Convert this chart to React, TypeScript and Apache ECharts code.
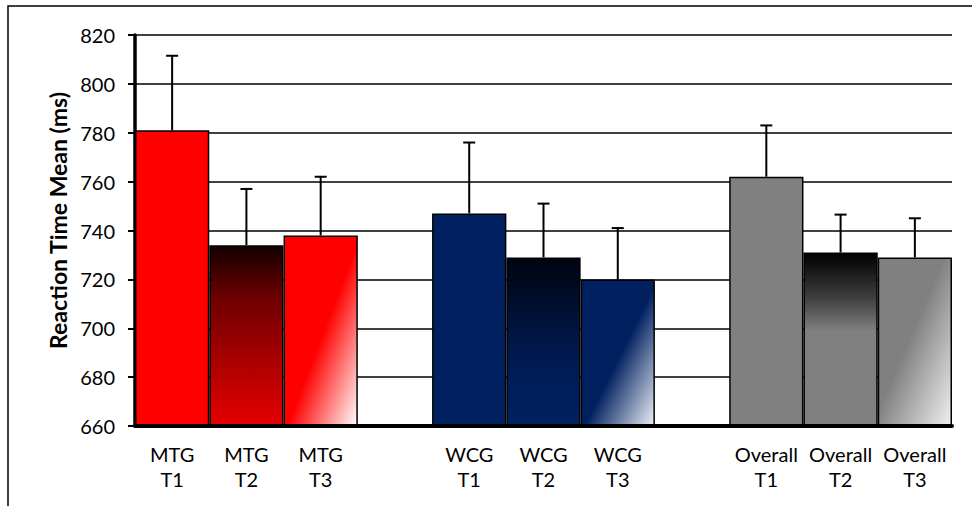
import React, { useEffect, useRef } from "react";
import * as echarts from "echarts";

const categories = [
  "MTG\nT1", "MTG\nT2", "MTG\nT3", "",
  "WCG\nT1", "WCG\nT2", "WCG\nT3", "",
  "Overall\nT1", "Overall\nT2", "Overall\nT3",
];
const means: (number | null)[] = [781, 734, 738, null, 747, 729, 720, null, 762, 731, 729];
const errors: (number | null)[] = [30.5, 23, 24, null, 29, 22, 21, null, 21, 15.5, 16];
const yTicks = { min: 660, max: 820, interval: 20 };
const yTitle = "Reaction Time Mean (ms)";

const FONT = "Lato, 'Noto Sans', sans-serif";

function grad(x2: number, y2: number, stops: [number, string][]) {
  return new echarts.graphic.LinearGradient(
    0, 0, x2, y2,
    stops.map(([offset, color]) => ({ offset, color }))
  );
}

const fills: any[] = [
  "#ff0000",
  grad(0, 1, [[0, "#140000"], [0.3, "#700000"], [1, "#e60000"]]),
  grad(1, 1, [[0, "#ff0000"], [0.52, "#ff0000"], [1, "#ffffff"]]),
  "#ffffff",
  "#002060",
  grad(0, 1, [[0, "#00040f"], [0.4, "#00143c"], [0.7, "#001d58"], [1, "#002060"]]),
  grad(1, 1, [[0, "#002060"], [0.52, "#002060"], [1, "#eef1f7"]]),
  "#ffffff",
  "#808080",
  grad(0, 1, [[0, "#000000"], [0.25, "#3c3c3c"], [0.45, "#808080"], [1, "#808080"]]),
  grad(1, 1, [[0, "#808080"], [0.45, "#808080"], [1, "#f0f0f0"]]),
];

export default function App() {
  const ref = useRef<HTMLDivElement>(null);
  useEffect(() => {
    if (!ref.current) return;
    const chart = echarts.init(ref.current, undefined, { renderer: "svg" });
    const barData = means.map((v, i) =>
      v == null
        ? null
        : { value: v, itemStyle: { color: fills[i], borderColor: "#000", borderWidth: 1.5 } }
    );
    const errData = means
      .map((v, i) => (v == null ? null : [i, v, v + (errors[i] as number)]))
      .filter((d) => d != null);

    chart.setOption({
      animation: false,
      backgroundColor: "#ffffff",
      graphic: [
        {
          type: "rect",
          shape: { x: 8, y: 6, width: 1000, height: 600 },
          style: { fill: "none", stroke: "#000", lineWidth: 1.5 },
          silent: true,
          z: -10,
        },
      ],
      grid: { left: 135, right: 20, top: 35, bottom: 80, containLabel: false },
      xAxis: {
        type: "category",
        data: categories,
        z: 5,
        axisLine: { show: true, lineStyle: { color: "#000", width: 4 } },
        axisTick: { show: false },
        axisLabel: {
          interval: 0,
          color: "#000",
          fontFamily: FONT,
          fontSize: 20,
          lineHeight: 25,
          margin: 15,
        },
        splitLine: { show: false },
      },
      yAxis: {
        type: "value",
        min: yTicks.min,
        max: yTicks.max,
        interval: yTicks.interval,
        name: yTitle,
        nameLocation: "middle",
        nameGap: 63,
        nameTextStyle: {
          fontFamily: FONT,
          fontSize: 23,
          fontWeight: "bold",
          color: "#000",
          padding: [0, 0, 0, 20],
        },
        axisLine: { show: true, lineStyle: { color: "#000", width: 3.5 } },
        axisTick: { show: true, inside: false, length: 7, lineStyle: { color: "#000", width: 2 } },
        axisLabel: { color: "#000", fontFamily: FONT, fontSize: 20, margin: 20 },
        splitLine: { show: true, lineStyle: { color: "#000", width: 1.5 } },
      },
      series: [
        {
          type: "bar",
          data: barData,
          barWidth: "100%",
          barCategoryGap: "0%",
          z: 2,
        },
        {
          type: "custom",
          data: errData,
          encode: { x: 0, y: [1, 2] },
          z: 1,
          renderItem: (params: any, api: any) => {
            const top = api.coord([api.value(0), api.value(2)]);
            const base = api.coord([api.value(0), api.value(1)]);
            const half = 6;
            const st = { stroke: "#000", lineWidth: 2 };
            return {
              type: "group",
              children: [
                { type: "line", shape: { x1: base[0], y1: base[1], x2: top[0], y2: top[1] }, style: st },
                { type: "line", shape: { x1: top[0] - half, y1: top[1], x2: top[0] + half, y2: top[1] }, style: st },
              ],
            };
          },
        },
      ],
    });
    return () => chart.dispose();
  }, []);
  return (
    <div
      ref={ref}
      style={{ position: "fixed", left: 0, top: 0, width: 972, height: 506 }}
    />
  );
}
